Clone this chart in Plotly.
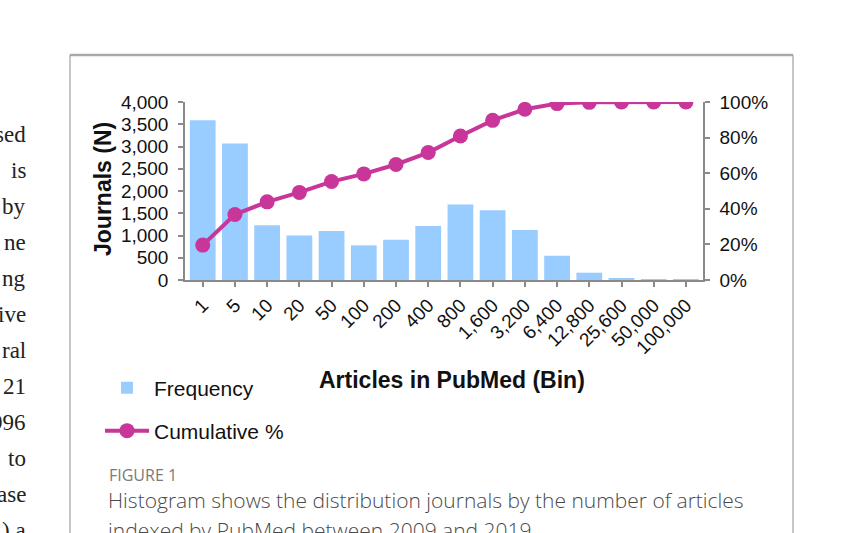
import plotly.graph_objects as go

# ---- data ----
bins = ["1", "5", "10", "20", "50", "100", "200", "400", "800", "1,600",
        "3,200", "6,400", "12,800", "25,600", "50,000", "100,000"]
frequency = [3590, 3065, 1233, 1002, 1099, 778, 904, 1211, 1697, 1570,
             1121, 545, 164, 45, 8, 2]
cumulative_pct = [19.6, 36.8, 43.9, 49.2, 55.3, 59.6, 64.9, 71.6, 80.9, 89.7,
                  95.9, 99.1, 99.8, 100, 100, 100]
y_ticks = [0, 500, 1000, 1500, 2000, 2500, 3000, 3500, 4000]
y2_ticks = [0, 20, 40, 60, 80, 100]
y2_labels = ["0%", "20%", "40%", "60%", "80%", "100%"]

side_text = ["sed", "is", "by", "ne", "ng", "ive", "ral", "21", "996", "to", "ase", ") a"]
caption_title = "FIGURE 1"
caption_lines = ["Histogram shows the distribution journals by the number of articles",
                 "indexed by PubMed between 2009 and 2019"]

# ---- layout geometry (pixels) ----
W, H = 861, 533
L, R, T, B = 185, 703, 102, 280
BLUE = "#99CCFF"
MAGENTA = "#C8369A"
AX = "#8a8a8a"
SANS = "Liberation Sans, Arial, sans-serif"


def px(x):
    return (x - L) / (R - L)


def py(y):
    return (B - y) / (B - T)


fig = go.Figure()
fig.add_trace(go.Bar(x=bins, y=frequency, name="Frequency", marker_color=BLUE,
                     marker_line_width=0, legend="legend"))
fig.add_trace(go.Scatter(x=bins, y=cumulative_pct, name="Cumulative %", yaxis="y2",
                         mode="lines+markers", line=dict(color=MAGENTA, width=4),
                         marker=dict(color=MAGENTA, size=15), legend="legend2"))

tickfont = dict(family=SANS, size=19, color="#111")
axis_common = dict(showline=True, linecolor=AX, linewidth=1.5, ticks="outside", ticklen=5,
                   tickcolor=AX, tickwidth=1.5, tickfont=tickfont, showgrid=False)

fig.update_layout(
    width=W, height=H,
    margin=dict(l=L, r=W - R, t=T, b=H - B),
    paper_bgcolor="white", plot_bgcolor="white",
    bargap=0.2,
    font=dict(family=SANS, color="#111"),
    xaxis=dict(type="category", range=[-0.55, 15.53], tickangle=-45, **axis_common),
    yaxis=dict(range=[0, 4000], tickvals=y_ticks, tickformat=",d", zeroline=False,
               ticklabelstandoff=6, **axis_common),
    yaxis2=dict(range=[0, 100], tickvals=y2_ticks, ticktext=y2_labels, overlaying="y",
                side="right", zeroline=False, ticklabelstandoff=6, **axis_common),
    legend=dict(x=px(100), y=py(388), xanchor="left", yanchor="middle", itemwidth=44,
                font=dict(size=21, family=SANS, color="#111"), bgcolor="rgba(0,0,0,0)"),
    legend2=dict(x=px(100), y=py(431), xanchor="left", yanchor="middle", itemwidth=44,
                 font=dict(size=21, family=SANS, color="#111"), bgcolor="rgba(0,0,0,0)"),
    showlegend=True,
)

annotations = [
    dict(text="<b>Journals (N)</b>", textangle=-90, x=px(103), y=py(189),
         xref="paper", yref="paper", showarrow=False, xanchor="center", yanchor="middle",
         font=dict(size=23, family=SANS, color="#111")),
    dict(text="<b>Articles in PubMed (Bin)</b>", x=px(452), y=py(380),
         xref="paper", yref="paper", showarrow=False, xanchor="center", yanchor="middle",
         font=dict(size=23, family=SANS, color="#111")),
    dict(text=caption_title, x=px(107), y=py(475), xref="paper", yref="paper",
         showarrow=False, xanchor="left", yanchor="middle",
         font=dict(size=16, family="Open Sans, sans-serif", color="#7a7a7a")),
]
for i, line in enumerate(caption_lines):
    annotations.append(dict(text=line, x=px(106), y=py(500 + 30 * i), xref="paper", yref="paper",
                            showarrow=False, xanchor="left", yanchor="middle",
                            font=dict(size=21, family="Open Sans, sans-serif", color="#4a4a4a",
                                      weight=300)))
for i, t in enumerate(side_text):
    annotations.append(dict(text=t, x=px(28), y=py(134 + 36 * i), xref="paper", yref="paper",
                            showarrow=False, xanchor="right", yanchor="middle",
                            font=dict(size=23, family="Liberation Serif, serif", color="#222")))
fig.update_layout(annotations=annotations)

frame = "#a0a0a0"
fig.add_shape(type="line", xref="paper", yref="paper", x0=px(70), x1=px(793), y0=py(55), y1=py(55),
              line=dict(color="#a8a8a8", width=2.5))
fig.add_shape(type="line", xref="paper", yref="paper", x0=px(70), x1=px(70), y0=py(55), y1=py(545),
              line=dict(color=frame, width=1.2))
fig.add_shape(type="line", xref="paper", yref="paper", x0=px(793), x1=px(793), y0=py(55), y1=py(545),
              line=dict(color=frame, width=1.2))

fig.write_html("out.html")
